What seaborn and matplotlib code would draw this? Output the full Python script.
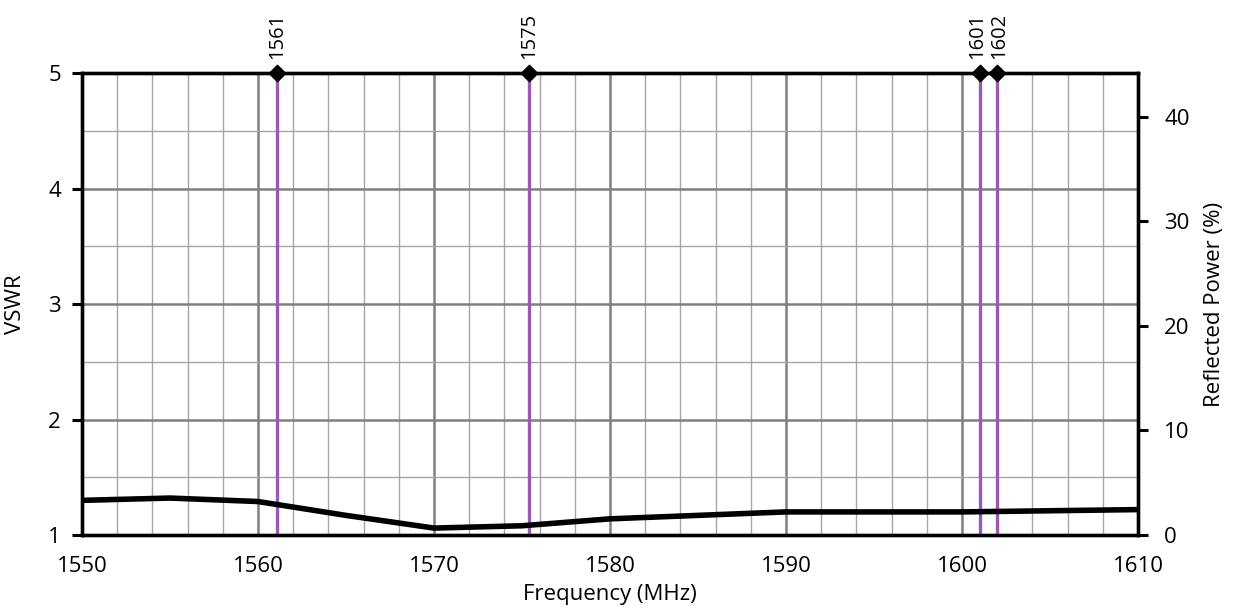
import matplotlib
matplotlib.use("Agg")
import matplotlib.pyplot as plt
import numpy as np
import pandas as pd
import seaborn as sns
from matplotlib.ticker import MultipleLocator

# VSWR sweep
freq_mhz = [1550, 1555, 1560, 1565, 1570, 1575, 1580, 1585, 1590, 1595, 1600, 1605, 1610]
vswr = [1.30, 1.32, 1.29, 1.17, 1.06, 1.08, 1.14, 1.17, 1.20, 1.20, 1.20, 1.21, 1.22]

# Marked band frequencies and their labels
marker_freqs = [1561.098, 1575.42, 1601.0, 1602.0]
marker_labels = ["1561", "1575", "1601", "1602"]

x_ticks = [1550, 1560, 1570, 1580, 1590, 1600, 1610]
vswr_ticks = [1, 2, 3, 4, 5]
power_ticks = [0, 10, 20, 30, 40]

sns.set_style("white")
plt.rcParams["font.family"] = ["Open Sans", "DejaVu Sans"]
plt.rcParams["text.color"] = "black"
plt.rcParams["axes.labelcolor"] = "black"

FS = 16

fig = plt.figure(figsize=(12.36, 6.12), dpi=100)
ax = fig.add_axes([0.0663, 0.1258, 0.8544, 0.7549])

df = pd.DataFrame({"Frequency": freq_mhz, "VSWR": vswr})

ax.set_xlim(1550, 1610)
ax.set_ylim(1, 5)

# grid: light minor lines, darker major lines
ax.xaxis.set_minor_locator(MultipleLocator(2))
ax.yaxis.set_minor_locator(MultipleLocator(0.5))
ax.grid(which="minor", color="#a6a6a6", linewidth=1.0)
ax.grid(which="major", color="#808080", linewidth=1.8)
ax.set_axisbelow(True)

for f in marker_freqs:
    ax.axvline(f, color="#9b59b6", linewidth=2.4, zorder=3)

sns.lineplot(data=df, x="Frequency", y="VSWR", color="black", linewidth=4.0,
             ax=ax, zorder=4)

ax.scatter(marker_freqs, [5] * len(marker_freqs), marker="D", s=70,
           color="black", zorder=6, clip_on=False)

# the two closely spaced labels are nudged apart a little
label_nudge = [0, 0, -1.5, 1.5]
for f, lab, dx in zip(marker_freqs, marker_labels, label_nudge):
    ax.annotate(lab, xy=(f, 5), xytext=(dx, 10), textcoords="offset points",
                rotation=90, ha="center", va="bottom", fontsize=14.5,
                annotation_clip=False)

ax.set_xticks(x_ticks)
ax.set_yticks(vswr_ticks)
ax.tick_params(axis="both", which="major", length=7, width=2.2, labelsize=FS,
               direction="out", pad=8, colors="black")
ax.tick_params(which="minor", length=0)
ax.set_xlabel("Frequency (MHz)", fontsize=FS, labelpad=5)
ax.set_ylabel("VSWR", fontsize=FS, labelpad=16)

for sp in ax.spines.values():
    sp.set_linewidth(2.4)
    sp.set_color("black")
    sp.set_visible(True)

ax2 = ax.twinx()
ax2.set_ylim(0, 44.2)
ax2.set_yticks(power_ticks)
ax2.tick_params(axis="y", length=7, width=2.2, labelsize=FS, direction="out",
                pad=12, colors="black")
ax2.set_ylabel("Reflected Power (%)", fontsize=FS, labelpad=10)
ax2.grid(False)
for sp in ax2.spines.values():
    sp.set_linewidth(2.4)
    sp.set_color("black")

fig.savefig("out.png", dpi=100)
